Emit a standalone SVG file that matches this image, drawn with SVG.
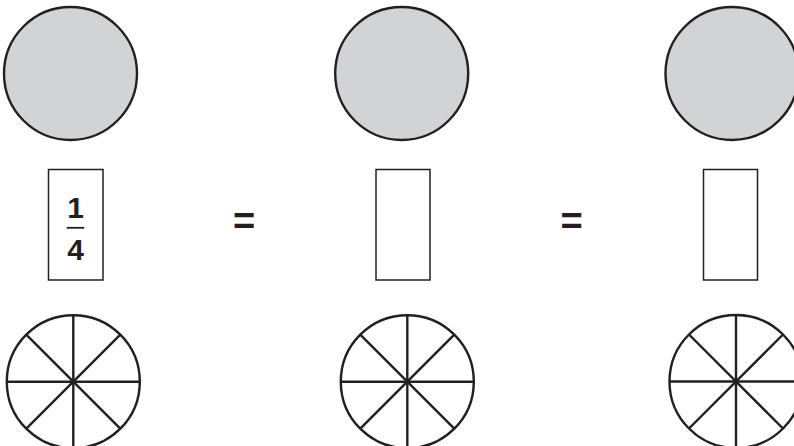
<svg xmlns="http://www.w3.org/2000/svg" width="794" height="446" viewBox="0 0 794 446">
  <defs>
    <style>
      .whole { fill: #d1d3d4; stroke: #231f20; stroke-width: 2.4; }
      .pie { fill: #ffffff; stroke: #231f20; stroke-width: 2.4; }
      .spoke { stroke: #231f20; stroke-width: 2.4; fill: none; }
      .box { fill: #ffffff; stroke: #231f20; stroke-width: 1.5; }
      .num { font-family: "Liberation Sans", Arial, sans-serif; font-weight: bold; font-size: 30px; fill: #231f20; text-anchor: middle; }
      .eq { font-family: "Liberation Sans", Arial, sans-serif; font-weight: bold; font-size: 38px; fill: #231f20; text-anchor: middle; }
    </style>
    <g id="spokes">
      <line class="spoke" x1="-66.5" y1="0" x2="66.5" y2="0"/>
      <line class="spoke" x1="0" y1="-66.5" x2="0" y2="66.5"/>
      <line class="spoke" x1="-47" y1="-47" x2="47" y2="47"/>
      <line class="spoke" x1="-47" y1="47" x2="47" y2="-47"/>
    </g>
  </defs>
  <rect width="794" height="446" fill="#ffffff"/>

  <g id="whole1"><circle class="whole" cx="70.5" cy="73.5" r="66.5"/></g>
  <g id="whole2"><circle class="whole" cx="401.7" cy="73.5" r="66.5"/></g>
  <g id="whole3"><circle class="whole" cx="732" cy="73.5" r="66.5"/></g>

  <g id="fraction1">
    <rect class="box" x="48.5" y="169.5" width="54.5" height="110.5"/>
    <text class="num" x="75.7" y="218">1</text>
    <line x1="66.7" y1="227.8" x2="84.3" y2="227.8" stroke="#231f20" stroke-width="1.8"/>
    <text class="num" x="75.7" y="260">4</text>
  </g>
  <g id="fraction2"><rect class="box" x="376" y="169.5" width="54" height="110.5"/></g>
  <g id="fraction3"><rect class="box" x="703.5" y="169.5" width="54" height="110.5"/></g>

  <g id="equals1"><text class="eq" x="244" y="233.5">=</text></g>
  <g id="equals2"><text class="eq" x="571.5" y="233.5">=</text></g>

  <g id="pie1">
    <circle class="pie" cx="73.3" cy="381.7" r="66.5"/>
    <use href="#spokes" x="73.3" y="381.7"/>
  </g>
  <g id="pie2">
    <circle class="pie" cx="407.3" cy="381.7" r="66.5"/>
    <use href="#spokes" x="407.3" y="381.7"/>
  </g>
  <g id="pie3">
    <circle class="pie" cx="736" cy="381.5" r="66.5"/>
    <use href="#spokes" x="736" y="381.5"/>
  </g>
  <g id="connectors"/>
</svg>
